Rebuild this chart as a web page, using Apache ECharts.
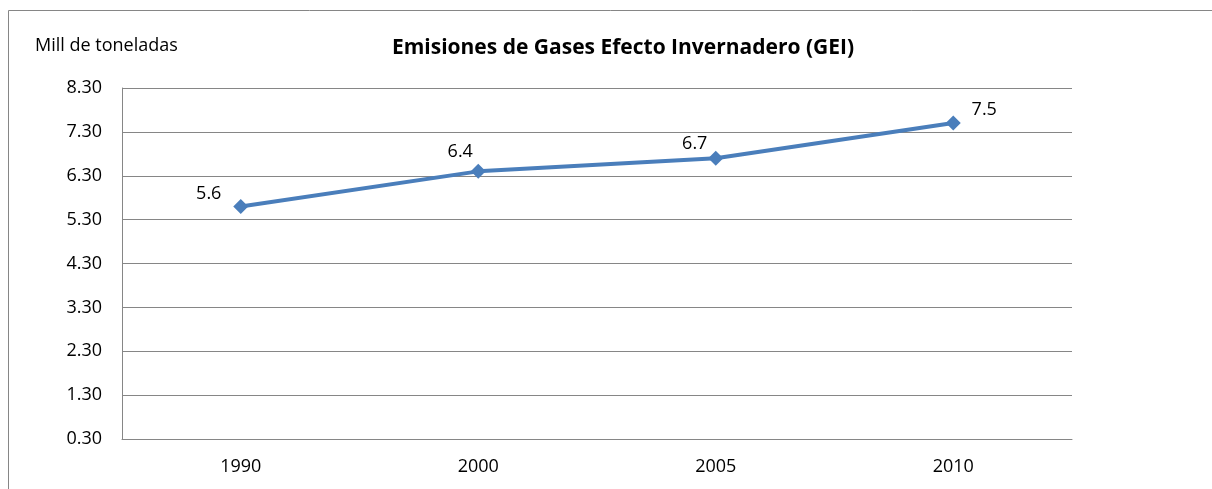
<!DOCTYPE html>
<html>
<head>
<meta charset="utf-8">
<script src="https://cdn.jsdelivr.net/npm/echarts@6/dist/echarts.min.js"></script>
<style>
  html, body { margin: 0; padding: 0; background: #fff; }
  #main { width: 1212px; height: 489px; }
</style>
</head>
<body>
<div id="main"></div>
<script>
// datos del gráfico
const years = ['1990', '2000', '2005', '2010']
const emisiones = [5.6, 6.4, 6.7, 7.5]
const yTicks = { min: 0.3, max: 8.3, step: 1 }

// posiciones de las etiquetas respecto al punto (como en Excel)
const labelOffsets = [[-32, -13], [-18, -19], [-21, -14], [31, -13]]

const font = '"Open Sans", sans-serif'
const myChart = echarts.init(document.getElementById('main'))
const option = {
  animation: false,
  textStyle: { fontFamily: font },
  graphic: [
    // marco del gráfico
    { type: 'line', shape: { x1: 8.5, y1: 10.5, x2: 1212, y2: 10.5 }, style: { stroke: '#868686', lineWidth: 1 } },
    { type: 'line', shape: { x1: 8.5, y1: 10.5, x2: 8.5, y2: 489 }, style: { stroke: '#868686', lineWidth: 1 } },
    { type: 'text', left: 35, top: 37, style: { text: 'Mill de toneladas', fontSize: 18, fontFamily: font, fill: '#000' } }
  ],
  title: {
    text: 'Emisiones de Gases Efecto Invernadero (GEI)',
    left: 618,
    top: 33,
    textAlign: 'center',
    textStyle: { fontSize: 21, fontWeight: 'bold', color: '#000', fontFamily: font }
  },
  grid: { left: 122, right: 140, top: 88, bottom: 50 },
  xAxis: {
    type: 'category',
    data: years,
    boundaryGap: true,
    axisLine: { lineStyle: { color: '#868686' } },
    axisTick: { show: false },
    axisLabel: { color: '#000', fontSize: 18, margin: 19 }
  },
  yAxis: {
    type: 'value',
    min: yTicks.min,
    max: yTicks.max,
    interval: yTicks.step,
    axisLine: { show: true, lineStyle: { color: '#868686' } },
    axisTick: { show: false },
    splitLine: { lineStyle: { color: '#868686' } },
    axisLabel: { color: '#000', fontSize: 18, margin: 20, formatter: (v) => v.toFixed(2) }
  },
  series: [{
    type: 'line',
    data: emisiones.map((v, i) => ({
      value: v,
      label: { offset: labelOffsets[i] }
    })),
    symbol: 'diamond',
    symbolSize: 15,
    lineStyle: { color: '#4a7ebb', width: 4 },
    itemStyle: { color: '#4a7ebb' },
    label: { show: true, position: 'inside', color: '#000', fontSize: 18 }
  }]
}
myChart.setOption(option, true)
</script>
</body>
</html>
